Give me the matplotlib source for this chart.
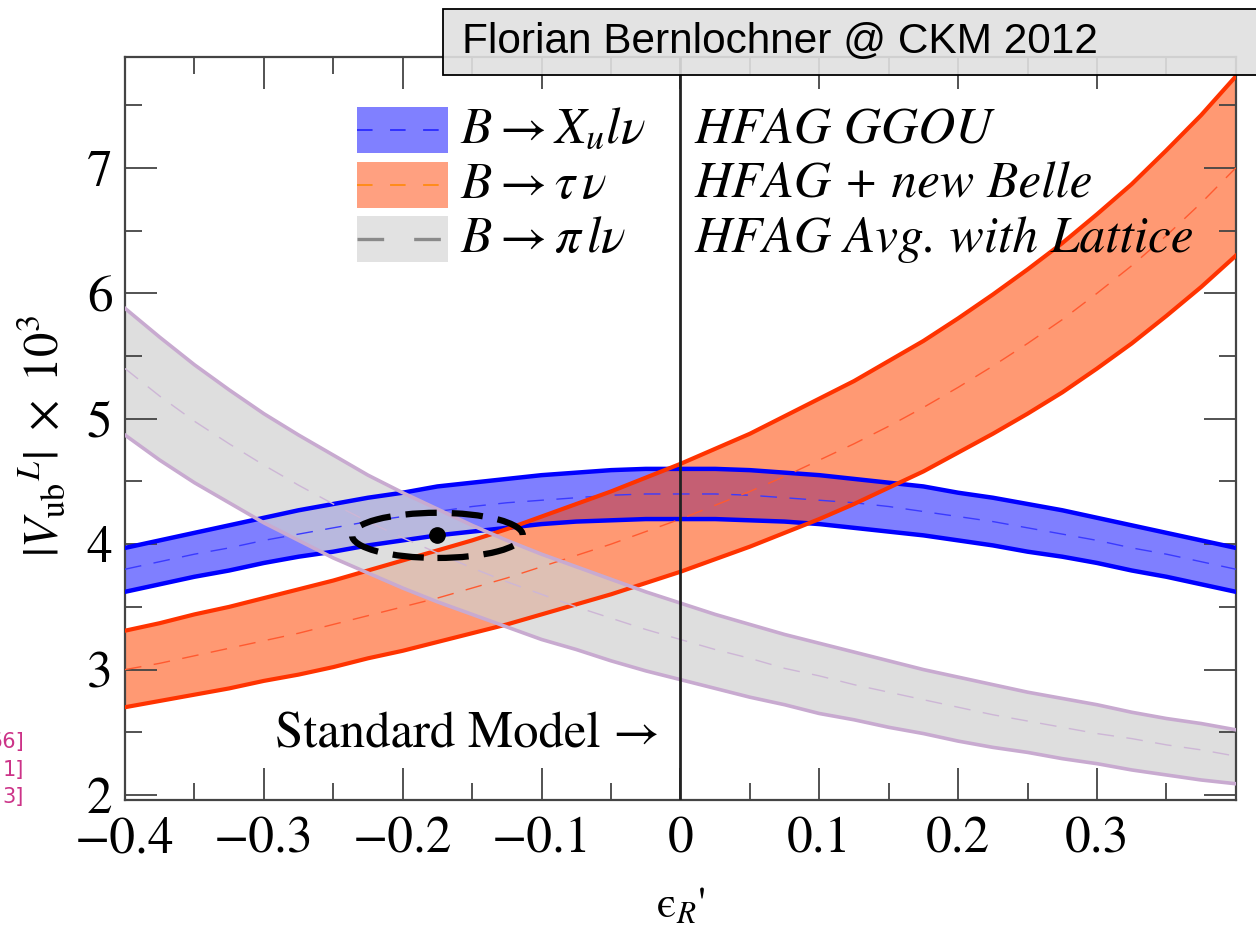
import matplotlib.pyplot as plt
from matplotlib.patches import Ellipse, Rectangle

plt.rcParams['font.family'] = ['STIXGeneral', 'DejaVu Sans']
plt.rcParams['mathtext.fontset'] = 'stix'

# epsilon_R' grid
eps = [-0.4, -0.375, -0.35, -0.325, -0.3, -0.275, -0.25, -0.225, -0.2,
       -0.175, -0.15, -0.125, -0.1, -0.075, -0.05, -0.025, 0.0,
       0.025, 0.05, 0.075, 0.1, 0.125, 0.15, 0.175, 0.2,
       0.225, 0.25, 0.275, 0.3, 0.325, 0.35, 0.375, 0.4]

# B -> X_u l nu (HFAG GGOU)
xu_up = [3.97, 4.03, 4.09, 4.15, 4.21, 4.27, 4.32, 4.37, 4.41,
         4.46, 4.49, 4.52, 4.55, 4.57, 4.59, 4.60, 4.60,
         4.60, 4.59, 4.57, 4.55, 4.52, 4.49, 4.46, 4.41,
         4.37, 4.32, 4.27, 4.21, 4.15, 4.09, 4.03, 3.97]
xu_mid = [3.80, 3.86, 3.92, 3.97, 4.03, 4.08, 4.13, 4.18, 4.22,
          4.26, 4.30, 4.33, 4.35, 4.37, 4.39, 4.40, 4.40,
          4.40, 4.39, 4.37, 4.35, 4.33, 4.30, 4.26, 4.22,
          4.18, 4.13, 4.08, 4.03, 3.97, 3.92, 3.86, 3.80]
xu_lo = [3.62, 3.68, 3.74, 3.79, 3.85, 3.90, 3.94, 3.99, 4.03,
         4.07, 4.10, 4.13, 4.16, 4.18, 4.19, 4.20, 4.20,
         4.20, 4.19, 4.18, 4.16, 4.13, 4.10, 4.07, 4.03,
         3.99, 3.94, 3.90, 3.85, 3.79, 3.74, 3.68, 3.62]

# B -> tau nu (HFAG + new Belle)
tau_up = [3.31, 3.37, 3.44, 3.50, 3.57, 3.64, 3.71, 3.79, 3.87,
          3.95, 4.03, 4.12, 4.22, 4.32, 4.42, 4.53, 4.64,
          4.76, 4.88, 5.02, 5.16, 5.30, 5.46, 5.62, 5.80,
          5.99, 6.19, 6.40, 6.63, 6.87, 7.14, 7.42, 7.73]
tau_mid = [3.00, 3.05, 3.11, 3.17, 3.23, 3.29, 3.36, 3.43, 3.50,
           3.57, 3.65, 3.73, 3.82, 3.91, 4.00, 4.10, 4.20,
           4.31, 4.42, 4.54, 4.67, 4.80, 4.94, 5.09, 5.25,
           5.42, 5.60, 5.79, 6.00, 6.22, 6.46, 6.72, 7.00]
tau_lo = [2.70, 2.75, 2.80, 2.85, 2.91, 2.96, 3.02, 3.09, 3.15,
          3.22, 3.29, 3.36, 3.44, 3.52, 3.60, 3.69, 3.78,
          3.88, 3.98, 4.09, 4.20, 4.32, 4.45, 4.58, 4.73,
          4.88, 5.04, 5.21, 5.40, 5.60, 5.82, 6.05, 6.30]

# B -> pi l nu (HFAG Avg. with Lattice)
pi_up = [5.88, 5.65, 5.43, 5.23, 5.04, 4.87, 4.71, 4.55, 4.41,
         4.28, 4.15, 4.03, 3.92, 3.82, 3.72, 3.62, 3.53,
         3.44, 3.36, 3.28, 3.21, 3.14, 3.07, 3.00, 2.94,
         2.88, 2.82, 2.77, 2.72, 2.66, 2.61, 2.57, 2.52]
pi_mid = [5.40, 5.18, 4.98, 4.80, 4.63, 4.47, 4.32, 4.18, 4.05,
          3.93, 3.81, 3.70, 3.60, 3.50, 3.41, 3.32, 3.24,
          3.16, 3.09, 3.01, 2.95, 2.88, 2.82, 2.76, 2.70,
          2.64, 2.59, 2.54, 2.49, 2.45, 2.40, 2.36, 2.31]
pi_lo = [4.87, 4.67, 4.49, 4.33, 4.17, 4.03, 3.89, 3.77, 3.65,
         3.54, 3.44, 3.34, 3.24, 3.16, 3.07, 2.99, 2.92,
         2.85, 2.78, 2.72, 2.65, 2.60, 2.54, 2.49, 2.43,
         2.38, 2.34, 2.29, 2.25, 2.20, 2.16, 2.12, 2.09]

# combined fit point
fit_x, fit_y = -0.175, 4.07
fit_w, fit_h = 0.123, 0.36

fig = plt.figure(figsize=(12.56, 9.26), dpi=100)
ax = fig.add_axes([0.0995, 0.136, 0.8845, 0.802])

ax.fill_between(eps, xu_lo, xu_up, color=(0, 0, 1), alpha=0.5, lw=0, zorder=1)
ax.fill_between(eps, tau_lo, tau_up, color=(1, 0.27, 0), alpha=0.55, lw=0, zorder=1.1)
ax.fill_between(eps, pi_lo, pi_up, color=(0.82, 0.82, 0.82), alpha=0.7, lw=0, zorder=1.2)

ax.plot(eps, xu_up, color='#0000ff', lw=3.2, zorder=3)
ax.plot(eps, xu_lo, color='#0000ff', lw=3.2, zorder=3)
ax.plot(eps, xu_mid, color='#3a3aff', lw=1.0, dashes=(12, 9), zorder=3)
ax.plot(eps, tau_up, color='#ff3300', lw=3.0, zorder=3)
ax.plot(eps, tau_lo, color='#ff3300', lw=3.0, zorder=3)
ax.plot(eps, tau_mid, color='#ff5a30', lw=1.0, dashes=(12, 9), zorder=3)
ax.plot(eps, pi_up, color='#c8aad0', lw=2.6, zorder=3.1)
ax.plot(eps, pi_lo, color='#c8aad0', lw=2.6, zorder=3.1)
ax.plot(eps, pi_mid, color='#cdb6d6', lw=1.0, dashes=(12, 9), zorder=3.1)

ax.axvline(0, color='#222222', lw=2.0, zorder=4)

ax.add_patch(Ellipse((fit_x, fit_y), fit_w, fit_h, fill=False, ec='black',
                     lw=4.5, linestyle=(0, (5, 2.4)), zorder=5))
ax.plot([fit_x], [fit_y], 'o', color='black', ms=11, zorder=5)

ax.set_xlim(-0.4, 0.4)
ax.set_ylim(1.96, 7.88)
ax.set_xticks([-0.4, -0.3, -0.2, -0.1, 0.0, 0.1, 0.2, 0.3])
ax.set_xticklabels(['\u22120.4', '\u22120.3', '\u22120.2', '\u22120.1',
                    '0', '0.1', '0.2', '0.3'])
ax.set_xticks([-0.35, -0.25, -0.15, -0.05, 0.05, 0.15, 0.25, 0.35], minor=True)
ax.set_yticks([2, 3, 4, 5, 6, 7])
ax.set_yticks([2.5, 3.5, 4.5, 5.5, 6.5, 7.5], minor=True)
ax.tick_params(which='both', direction='in', top=True, right=True,
               color='#444444', width=1.3, labelsize=37)
ax.tick_params(which='major', length=23)
ax.tick_params(axis='x', which='major', pad=12)
ax.tick_params(axis='y', which='major', pad=9)
ax.tick_params(which='minor', length=12)
for s in ax.spines.values():
    s.set_color('#444444')
    s.set_linewidth(1.6)

ax.set_ylabel(r'$|V_{\mathrm{ub}}{}^{L}|\ \times\ 10^{3}$', fontsize=35)
ax.yaxis.set_label_coords(-0.05, 0.49)
ax.set_xlabel('$\\mathrm{\u03f5}_{R}$\'', fontsize=32)
ax.xaxis.set_label_coords(0.5, -0.116)

# legend drawn by hand
rows = [0.9017, 0.8277, 0.7550]
patch_cols = ['#8080ff', '#ffa080', '#e2e2e2']
dash_cols = ['#3030ff', '#ff8c1a', '#8a8a8a']
labels = [r'$B \rightarrow X_u l\nu$', r'$B \rightarrow \tau\,\nu$',
          r'$B \rightarrow \pi\, l\nu$']
sources = ['HFAG GGOU', 'HFAG + new Belle', 'HFAG Avg. with Lattice']
for yc, pc, dc, lab, src in zip(rows, patch_cols, dash_cols, labels, sources):
    ax.add_patch(Rectangle((0.2088, yc - 0.031), 0.0819, 0.062,
                           transform=ax.transAxes, color=pc, lw=0, zorder=6))
    ax.plot([0.2088, 0.2907], [yc, yc], transform=ax.transAxes, color=dc,
            lw=1.4 if dc != '#8a8a8a' else 2.4, dashes=(8, 9), zorder=7)
    ax.text(0.3015, yc, lab, transform=ax.transAxes, fontsize=37,
            va='center', ha='left', zorder=7)
    ax.text(0.513, yc, src, transform=ax.transAxes, fontsize=37,
            style='italic', va='center', ha='left', zorder=7)

ax.text(0.4815, 0.0875, 'Standard Model \u2192', transform=ax.transAxes,
        fontsize=36.5, ha='right', va='center', zorder=7)

# speaker box on top
fig.add_artist(Rectangle((443 / 1256, 1 - 75 / 926), 0.7, 66 / 926,
                         transform=fig.transFigure, facecolor=(0.88, 0.88, 0.88, 0.9),
                         edgecolor='black', lw=1.3, zorder=10))
fig.text(462 / 1256, 1 - 42 / 926, 'Florian Bernlochner @ CKM 2012',
         family='Liberation Sans', fontsize=30.5, va='center', ha='left', zorder=11)

# clipped reference numbers from the slide edge
for yy, t in zip([742, 770, 797], ['56]', '1]', '3]']):
    fig.text(24 / 1256, 1 - yy / 926, t, family='DejaVu Sans', fontsize=15,
             color='#cc3388', ha='right', va='center')

fig.savefig('out.png', dpi=100)
